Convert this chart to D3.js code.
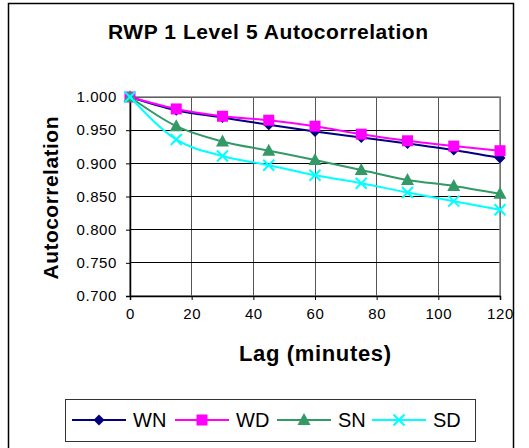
<!DOCTYPE html>
<html><head><meta charset="utf-8">
<script src="https://cdnjs.cloudflare.com/ajax/libs/d3/7.8.5/d3.min.js"></script>
<style>body{margin:0;background:#fff}svg{display:block}text{font-family:Arial,"Liberation Sans",sans-serif}</style>
</head><body>
<script>
const lags = [0, 15, 30, 45, 60, 75, 90, 105, 120];
const seriesNames = ["WN", "WD", "SN", "SD"];
const WN = [1.000, 0.980, 0.969, 0.958, 0.948, 0.939, 0.930, 0.920, 0.908];
const WD = [1.000, 0.982, 0.971, 0.965, 0.956, 0.944, 0.934, 0.926, 0.919];
const SN = [1.000, 0.956, 0.933, 0.919, 0.905, 0.890, 0.875, 0.866, 0.854];
const SD = [1.000, 0.936, 0.911, 0.897, 0.882, 0.870, 0.856, 0.843, 0.830];
const xTicks = [0, 20, 40, 60, 80, 100, 120];
const yTicks = [0.700, 0.750, 0.800, 0.850, 0.900, 0.950, 1.000];
const colors = {WN:"#000080", WD:"#FF00FF", SN:"#339966", SD:"#00FFFF"};
const shapes = {WN:"diamond", WD:"square", SN:"triangle", SD:"x"};
const values = {WN, WD, SN, SD};

const W = 529, H = 448;
const svg = d3.select("body").append("svg").attr("width", W).attr("height", H);
svg.append("rect").attr("x", 8.5).attr("y", 3.5).attr("width", 505).attr("height", 460)
  .attr("fill", "#fff").attr("stroke", "#000").attr("stroke-width", 1.5);

const L = 130, R = 500, T = 97, B = 296;
const x = d3.scaleLinear().domain([0, 120]).range([L, R]);
const y = d3.scaleLinear().domain([0.7, 1.0]).range([B, T]);

// gridlines
svg.append("g").selectAll("line").data(xTicks.slice(1)).join("line")
  .attr("x1", d => x(d)).attr("x2", d => x(d)).attr("y1", T).attr("y2", B)
  .attr("stroke", "#555").attr("stroke-width", 1).attr("shape-rendering", "crispEdges");
svg.append("g").selectAll("line").data(yTicks.slice(1)).join("line")
  .attr("x1", L).attr("x2", R).attr("y1", d => y(d)).attr("y2", d => y(d))
  .attr("stroke", "#000").attr("stroke-width", 1).attr("shape-rendering", "crispEdges");
// plot border
svg.append("rect").attr("x", L).attr("y", T).attr("width", R - L).attr("height", B - T)
  .attr("fill", "none").attr("stroke", "#808080").attr("stroke-width", 1.5);

// axes
const yAxis = d3.axisLeft(y).tickValues(yTicks).tickFormat(d3.format(".3f")).tickSize(4).tickPadding(9);
const gy = svg.append("g").attr("transform", `translate(${L},0)`).call(yAxis);
const xAxis = d3.axisBottom(x).tickValues(xTicks).tickSize(4).tickPadding(8);
const gx = svg.append("g").attr("transform", `translate(0,${B})`).call(xAxis);
[gx, gy].forEach(g => {
  g.select(".domain").attr("stroke", "#000").attr("stroke-width", 1.5);
  g.selectAll(".tick line").attr("stroke", "#000");
  g.selectAll(".tick text").attr("font-size", 15).attr("letter-spacing", 0.6).attr("fill", "#000")
    .attr("font-family", "Arial, 'Liberation Sans', sans-serif");
});

function marker(g, type, color, cx, cy) {
  if (type === "diamond") {
    g.append("path").attr("d", `M${cx},${cy-5.5}L${cx+5.5},${cy}L${cx},${cy+5.5}L${cx-5.5},${cy}Z`).attr("fill", color);
  } else if (type === "square") {
    g.append("rect").attr("x", cx-5.5).attr("y", cy-5.5).attr("width", 11).attr("height", 11).attr("fill", color);
  } else if (type === "triangle") {
    g.append("path").attr("d", `M${cx},${cy-7}L${cx+6.5},${cy+5}L${cx-6.5},${cy+5}Z`).attr("fill", color);
  } else {
    g.append("path").attr("d", `M${cx-5.5},${cy-5.5}L${cx+5.5},${cy+5.5}M${cx+5.5},${cy-5.5}L${cx-5.5},${cy+5.5}`)
      .attr("stroke", color).attr("stroke-width", 2).attr("fill", "none");
  }
}

const line = d3.line().x((d, i) => x(lags[i])).y(d => y(d)).curve(d3.curveMonotoneX);
seriesNames.forEach(name => {
  const g = svg.append("g");
  g.append("path").attr("d", line(values[name])).attr("fill", "none")
    .attr("stroke", colors[name]).attr("stroke-width", 2);
  values[name].forEach((v, i) => marker(g, shapes[name], colors[name], x(lags[i]), y(v)));
});

// titles
svg.append("text").attr("x", 268).attr("y", 39).attr("text-anchor", "middle")
  .attr("font-size", 21).attr("font-weight", "bold").attr("textLength", 320).attr("lengthAdjust", "spacing")
  .text("RWP 1 Level 5 Autocorrelation");
svg.append("text").attr("x", 315).attr("y", 361).attr("text-anchor", "middle")
  .attr("font-size", 22).attr("font-weight", "bold").attr("textLength", 152).attr("lengthAdjust", "spacing")
  .text("Lag (minutes)");
svg.append("text").attr("transform", "translate(58,198) rotate(-90)").attr("text-anchor", "middle")
  .attr("font-size", 21).attr("font-weight", "bold").attr("textLength", 163).attr("lengthAdjust", "spacing")
  .text("Autocorrelation");

// legend
const lg = svg.append("g");
lg.append("rect").attr("x", 65.5).attr("y", 399.5).attr("width", 410).attr("height", 42)
  .attr("fill", "#fff").attr("stroke", "#333").attr("stroke-width", 1);
const legX = [72, 175, 277, 372];
seriesNames.forEach((name, i) => {
  const x0 = legX[i], cy = 420;
  lg.append("line").attr("x1", x0).attr("x2", x0 + 54).attr("y1", cy).attr("y2", cy)
    .attr("stroke", colors[name]).attr("stroke-width", 2);
  marker(lg, shapes[name], colors[name], x0 + 27, cy);
  lg.append("text").attr("x", x0 + 61).attr("y", cy + 7).attr("font-size", 20).text(name);
});
</script>
</body></html>
